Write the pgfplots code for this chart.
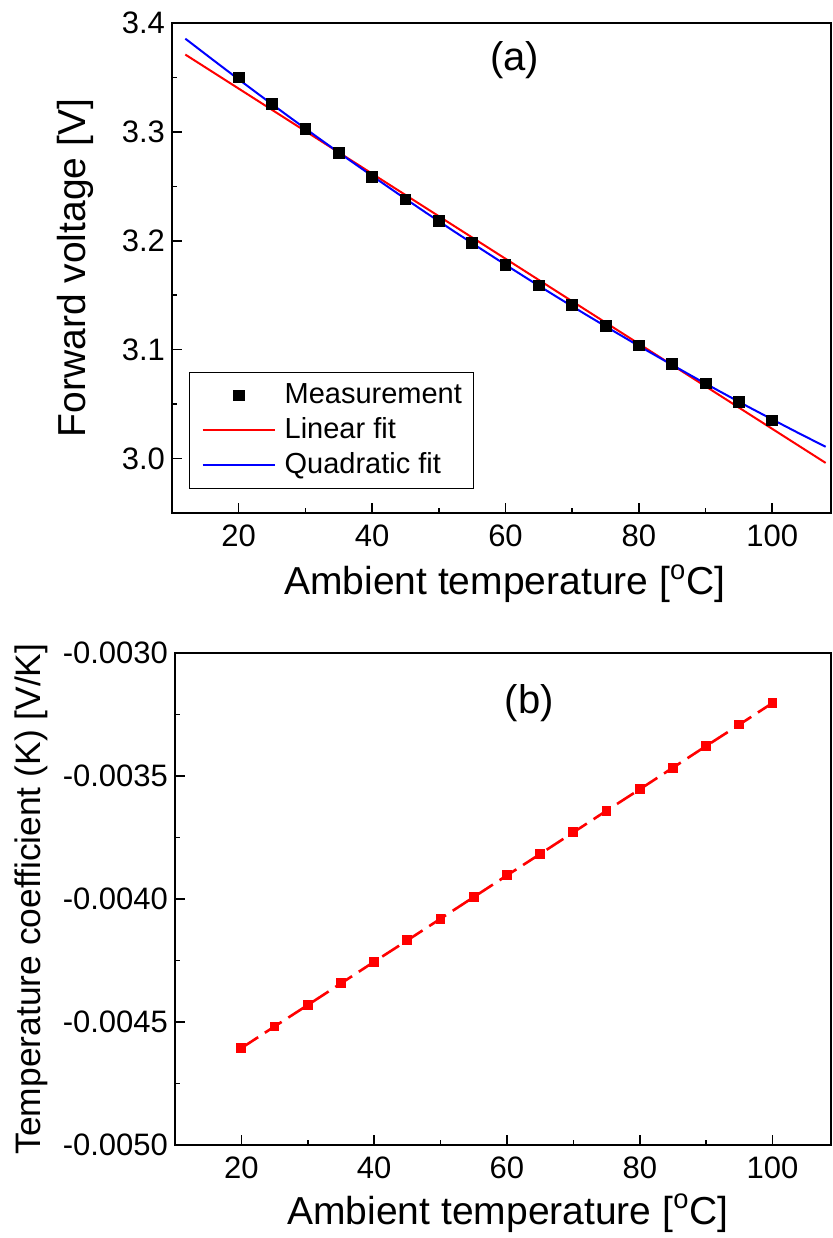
\documentclass[border=0pt]{standalone}
\usepackage{fontspec}
\setmainfont{Liberation Sans}
\usepackage{pgfplots}
\pgfplotsset{compat=1.18}

\pgfplotstableread{
T V
20 3.350
25 3.326
30 3.303
35 3.281
40 3.259
45 3.238
50 3.218
55 3.198
60 3.178
65 3.159
70 3.141
75 3.122
80 3.104
85 3.087
90 3.069
95 3.052
100 3.035
}\measdata

\pgfplotstableread{
T V
12 3.3856
16 3.3668
20 3.3482
24 3.3299
28 3.3119
32 3.2942
36 3.2767
40 3.2596
44 3.2427
48 3.2261
52 3.2098
56 3.1938
60 3.1780
64 3.1625
68 3.1473
72 3.1324
76 3.1178
80 3.1034
84 3.0894
88 3.0756
92 3.0621
96 3.0488
100 3.0359
104 3.0232
108 3.0108
}\quaddata

\pgfplotstableread{
T K
20 -0.004606
25 -0.004518
30 -0.004431
35 -0.004343
40 -0.004255
45 -0.004168
50 -0.004080
55 -0.003992
60 -0.003904
65 -0.003817
70 -0.003729
75 -0.003641
80 -0.003554
85 -0.003466
90 -0.003378
95 -0.003291
100 -0.003203
}\coefdata

\begin{document}
\begin{tikzpicture}
\pgfplotsset{
  myaxis/.style={
    scale only axis,
    xmin=10, xmax=108.8,
    xtick={20,40,60,80,100},
    minor x tick num=1,
    tick align=inside,
    tick pos=left,
    major tick length=4.8pt,
    minor tick length=2.6pt,
    every tick/.style={black, line width=0.8pt},
    axis line style={line width=0.9pt},
    tick label style={font=\fontsize{15.5}{18}\selectfont},
    label style={font=\fontsize{19.5}{23}\selectfont},
    xticklabel style={yshift=-2.5pt},
    /pgf/number format/assume math mode=true,
    scaled ticks=false,
  },
  legend image code/.code={
    \draw[mark repeat=2,mark phase=2,#1] plot coordinates {(0pt,0pt) (18pt,0pt) (36pt,0pt)};
  },
}
% ---------- (a) ----------
\begin{axis}[myaxis,
  at={(86pt,362.5pt)}, anchor=south west,
  width=329.5pt, height=245pt,
  ymin=2.95, ymax=3.4,
  ytick={3.0,3.1,3.2,3.3,3.4},
  yticklabels={3.0,3.1,3.2,3.3,3.4},
  minor y tick num=1,
  xlabel={Ambient temperature [\textsuperscript{o}C]},
  ylabel={Forward voltage [V]},
  xlabel style={at={(axis description cs:0.505,-0.167)}, anchor=base},
  ylabel style={at={(axis description cs:-0.132,0.5)}, anchor=base},
  legend cell align=left,
  legend style={at={(axis description cs:0.026,0.049)}, anchor=south west,
    draw=black, line width=0.5pt,
    font=\fontsize{14.5}{17}\selectfont,
    inner xsep=6pt, inner ysep=4.5pt,
    row sep=3.5pt, column sep=4.5pt,
    nodes={inner sep=0pt, text height=11pt, text depth=3pt}},
]
\addplot[only marks, mark=square*, mark size=2.7pt, black] table[x=T,y=V]{\measdata};
\addlegendentry{Measurement}
\addplot[red, line width=1pt] coordinates {(12,3.371) (108,2.996)};
\addlegendentry{Linear fit}
\addplot[blue, line width=1pt] table[x=T,y=V]{\quaddata};
\addlegendentry{Quadratic fit}
\node[font=\fontsize{20}{24}\selectfont] at (rel axis cs:0.52,0.924) {(a)};
\end{axis}
% ---------- (b) ----------
\begin{axis}[myaxis,
  at={(87.5pt,46.5pt)}, anchor=south west,
  width=328pt, height=246pt,
  ymin=-0.005, ymax=-0.003,
  ytick={-0.005,-0.0045,-0.004,-0.0035,-0.003},
  yticklabels={-0.0050,-0.0045,-0.0040,-0.0035,-0.0030},
  minor y tick num=1,
  xlabel={Ambient temperature [\textsuperscript{o}C]},
  ylabel={Temperature coefficient (K) [V/K]},
  xlabel style={at={(axis description cs:0.5076,-0.1606)}, anchor=base},
  ylabel style={at={(axis description cs:-0.2055,0.5)}, anchor=base,
    font=\fontsize{17.7}{21}\selectfont},
]
\addplot[red, line width=1.3pt, dash pattern=on 10pt off 4pt,
  mark=square*, mark size=1.8pt, mark options={solid}] table[x=T,y=K]{\coefdata};
\node[font=\fontsize{20}{24}\selectfont] at (rel axis cs:0.54,0.898) {(b)};
\end{axis}
\pgfresetboundingbox
\path[use as bounding box] (0pt,0pt) rectangle (416pt,619pt);
\end{tikzpicture}
\end{document}
